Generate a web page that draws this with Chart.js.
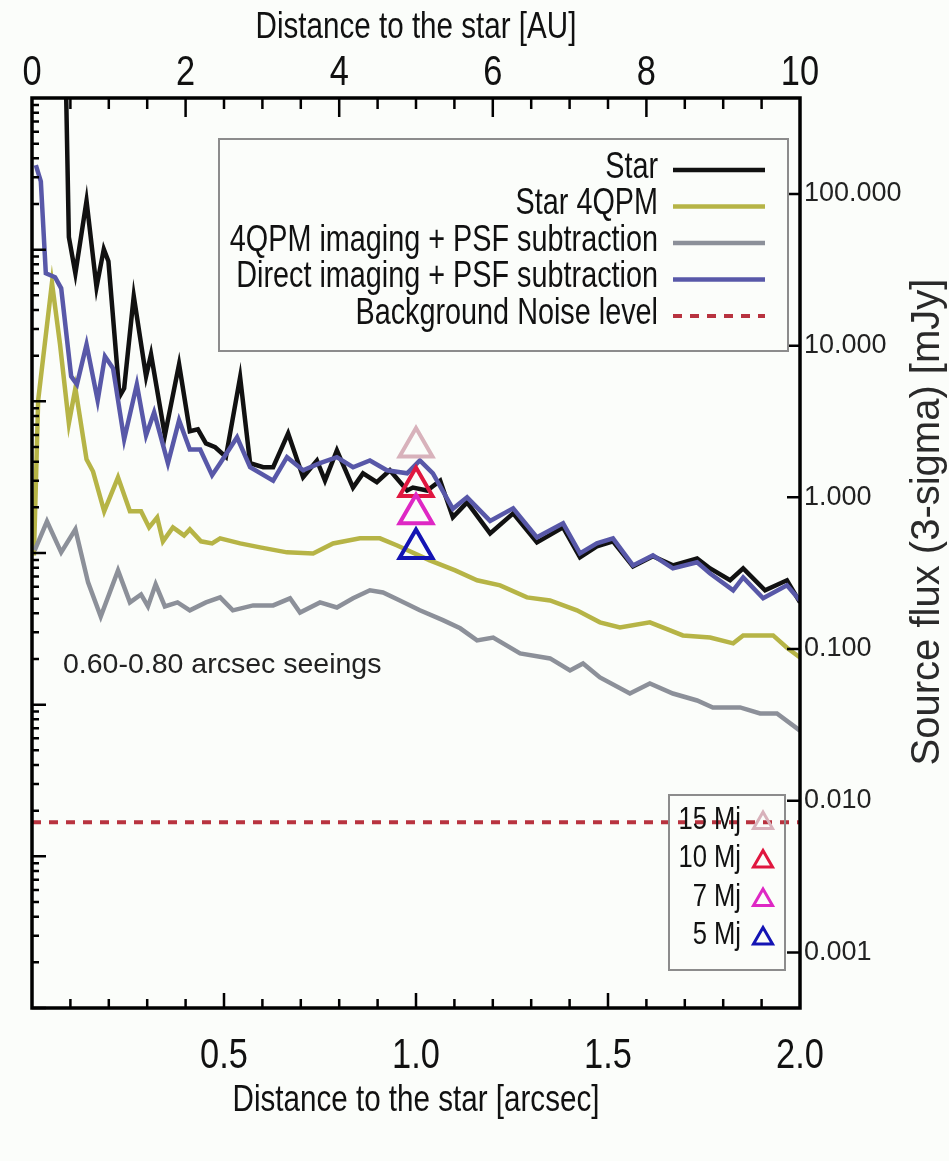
<!DOCTYPE html>
<html lang="en">
<head>
<meta charset="UTF-8">
<title>Detection limits</title>
<style>
    html, body { margin: 0; padding: 0; background: #fbfdfa; }
    .wrap { width: 949px; height: 1161px; position: relative; }
</style>
</head>
<body>
<div class="wrap"><canvas id="chart"></canvas></div>
<script src="https://cdn.jsdelivr.net/npm/chart.js@4.4.1/dist/chart.umd.min.js"></script>
<script>
    // separation [arcsec] and 3-sigma flux [mJy]
    const starSep = [0.088, 0.096, 0.113, 0.142, 0.168, 0.187, 0.199, 0.228, 0.240, 0.265, 0.297, 0.310, 0.346, 0.383, 0.411, 0.432, 0.453, 0.477, 0.505, 0.542, 0.568, 0.602, 0.628, 0.667, 0.706, 0.742, 0.763, 0.794, 0.836, 0.862, 0.898, 0.932, 0.977, 0.992, 1.029, 1.063, 1.096, 1.133, 1.193, 1.253, 1.315, 1.383, 1.427, 1.471, 1.513, 1.565, 1.617, 1.669, 1.732, 1.766, 1.818, 1.852, 1.909, 1.966, 2.000];
    const starFlux = [600, 52, 30.0, 90, 24.3, 43.3, 36.0, 4.64, 5.24, 21.2, 6.28, 8.78, 2.56, 7.54, 2.73, 2.81, 2.27, 2.14, 1.85, 6.2, 1.68, 1.58, 1.58, 2.64, 1.36, 1.75, 1.29, 2.04, 1.16, 1.44, 1.26, 1.51, 1.11, 1.16, 1.11, 1.29, 0.738, 0.927, 0.579, 0.784, 0.505, 0.634, 0.402, 0.475, 0.513, 0.351, 0.409, 0.356, 0.396, 0.340, 0.284, 0.340, 0.244, 0.284, 0.203];

    const qpmSep = [0.005, 0.016, 0.052, 0.073, 0.096, 0.113, 0.142, 0.159, 0.188, 0.224, 0.255, 0.284, 0.305, 0.326, 0.341, 0.367, 0.396, 0.411, 0.440, 0.469, 0.490, 0.542, 0.594, 0.664, 0.732, 0.784, 0.854, 0.906, 0.951, 1.036, 1.102, 1.159, 1.219, 1.289, 1.349, 1.419, 1.479, 1.531, 1.609, 1.695, 1.766, 1.826, 1.852, 1.930, 1.966, 2.000];
    const qpmFlux = [0.414, 4.36, 26, 10.2, 3.08, 5.24, 1.78, 1.48, 0.809, 1.355, 0.809, 0.809, 0.634, 0.738, 0.513, 0.634, 0.561, 0.615, 0.513, 0.497, 0.537, 0.497, 0.468, 0.434, 0.427, 0.497, 0.537, 0.537, 0.482, 0.384, 0.330, 0.284, 0.263, 0.219, 0.209, 0.180, 0.150, 0.139, 0.150, 0.123, 0.119, 0.109, 0.123, 0.123, 0.102, 0.088];

    const qpmSubSep = [0.007, 0.039, 0.076, 0.113, 0.146, 0.179, 0.224, 0.255, 0.284, 0.302, 0.322, 0.346, 0.379, 0.411, 0.453, 0.490, 0.523, 0.576, 0.628, 0.672, 0.698, 0.750, 0.794, 0.836, 0.880, 0.914, 0.958, 1.010, 1.070, 1.115, 1.159, 1.201, 1.271, 1.349, 1.401, 1.435, 1.479, 1.557, 1.609, 1.669, 1.732, 1.773, 1.844, 1.896, 1.940, 2.000];
    const qpmSubFlux = [0.447, 0.694, 0.434, 0.615, 0.275, 0.164, 0.330, 0.203, 0.229, 0.191, 0.267, 0.191, 0.203, 0.180, 0.203, 0.219, 0.180, 0.194, 0.194, 0.216, 0.174, 0.203, 0.188, 0.216, 0.244, 0.236, 0.209, 0.180, 0.155, 0.137, 0.114, 0.119, 0.0935, 0.0867, 0.0722, 0.0804, 0.065, 0.0509, 0.0593, 0.0509, 0.0458, 0.0412, 0.0412, 0.0376, 0.0376, 0.029];

    const directSep = [0.010, 0.023, 0.036, 0.060, 0.076, 0.102, 0.117, 0.142, 0.171, 0.190, 0.211, 0.240, 0.273, 0.297, 0.318, 0.354, 0.383, 0.411, 0.438, 0.469, 0.490, 0.534, 0.568, 0.628, 0.664, 0.706, 0.750, 0.794, 0.836, 0.880, 0.924, 0.977, 1.010, 1.044, 1.096, 1.133, 1.193, 1.253, 1.315, 1.383, 1.427, 1.471, 1.513, 1.565, 1.617, 1.669, 1.732, 1.766, 1.826, 1.852, 1.904, 1.966, 2.000];
    const directFlux = [155, 121, 30.0, 28.3, 23.9, 6.28, 5.56, 10.2, 4.36, 8.51, 7.10, 2.41, 5.56, 2.56, 3.64, 1.68, 3.22, 2.07, 2.07, 1.40, 1.68, 2.49, 1.58, 1.29, 1.84, 1.51, 1.68, 1.84, 1.58, 1.75, 1.51, 1.44, 1.75, 1.44, 0.84, 1.00, 0.70, 0.846, 0.545, 0.674, 0.427, 0.497, 0.537, 0.356, 0.414, 0.340, 0.373, 0.315, 0.244, 0.297, 0.216, 0.263, 0.209];

    const noiseSep = [0, 2];
    const noiseFlux = [0.0072, 0.0072];

    // planet masses at 1 arcsec
    const planetNames = ['15 Mj', '10 Mj', '7 Mj', '5 Mj'];
    const planetSep = [1.0, 1.0, 1.0, 1.0];
    const planetFlux = [2.15, 1.18, 0.78, 0.46];
    const planetColors = ['#d8b2bb', '#e0173f', '#de28c4', '#1414b4'];

    const arcsecTicks = [0.5, 1.0, 1.5, 2.0];
    const auTicks = [0, 2, 4, 6, 8, 10];
    const fluxTicks = [0.001, 0.01, 0.1, 1, 10, 100];

    const legendNames = ['Star', 'Star 4QPM', '4QPM imaging + PSF subtraction', 'Direct imaging + PSF subtraction', 'Background Noise level'];

    const PLAIN = '"Liberation Sans", Arial, sans-serif';

    function pts(xs, ys) {
        return xs.map((x, i) => ({x: x, y: ys[i]}));
    }

    // condensed text: Liberation Sans squeezed horizontally
    function narrowText(ctx, text, x, y, size, align) {
        ctx.save();
        ctx.font = size + 'px ' + PLAIN;
        ctx.textAlign = align;
        ctx.textBaseline = 'middle';
        ctx.fillStyle = '#111';
        ctx.translate(x, y);
        ctx.scale(0.8, 1);
        ctx.fillText(text, 0, 0);
        ctx.restore();
    }

    // inward tick marks, frame, tick labels and axis titles
    const frameTicks = {
        id: 'frameTicks',
        afterDatasetsDraw(chart) {
            const {ctx, chartArea: a, scales} = chart;
            ctx.save();
            ctx.strokeStyle = '#000';
            ctx.lineWidth = 2.5;
            ctx.beginPath();
            for (let i = 1; i < 20; i++) {
                const px = scales.x.getPixelForValue(i / 10);
                const len = i % 5 === 0 ? 15 : 9;
                ctx.moveTo(px, a.bottom);
                ctx.lineTo(px, a.bottom - len);
            }
            for (let i = 1; i < 20; i++) {
                const px = scales.x2.getPixelForValue(i / 2);
                const len = i % 4 === 0 ? 19 : 11;
                ctx.moveTo(px, a.top);
                ctx.lineTo(px, a.top + len);
            }
            fluxTicks.forEach(v => {
                const py = scales.y.getPixelForValue(v);
                ctx.moveTo(a.right, py);
                ctx.lineTo(a.right - 13, py);
            });
            for (let e = -3; e < 3; e++) {
                for (let m = 1; m < 10; m++) {
                    const py = scales.yL.getPixelForValue(m * Math.pow(10, e));
                    const len = m === 1 ? 14 : 7;
                    ctx.moveTo(a.left, py);
                    ctx.lineTo(a.left + len, py);
                }
            }
            ctx.stroke();
            ctx.lineWidth = 3.5;
            ctx.strokeRect(a.left, a.top, a.right - a.left, a.bottom - a.top);
            ctx.restore();

            arcsecTicks.forEach(v => narrowText(ctx, v.toFixed(1), scales.x.getPixelForValue(v), 1056, 43, 'center'));
            auTicks.forEach(v => narrowText(ctx, String(v), scales.x2.getPixelForValue(v), 73, 43, 'center'));
            const mid = (a.left + a.right) / 2;
            narrowText(ctx, 'Distance to the star [arcsec]', mid, 1101, 37, 'center');
            narrowText(ctx, 'Distance to the star [AU]', mid, 28, 37, 'center');
        }
    };

    // legends, annotation and right-hand title
    const notes = {
        id: 'notes',
        afterDraw(chart) {
            const ctx = chart.ctx;
            ctx.save();

            ctx.strokeStyle = '#8c8c8c';
            ctx.lineWidth = 2;
            ctx.strokeRect(219, 139, 569, 212);
            legendNames.forEach((name, i) => {
                const ds = chart.data.datasets.find(d => d.label === name);
                const y = 168 + i * 36.5;
                narrowText(ctx, name, 658, y, 36, 'right');
                ctx.strokeStyle = ds.borderColor;
                ctx.lineWidth = ds.borderWidth;
                ctx.setLineDash(ds.borderDash || []);
                ctx.beginPath();
                ctx.moveTo(673, y + 2);
                ctx.lineTo(765, y + 2);
                ctx.stroke();
            });
            ctx.setLineDash([]);

            ctx.strokeStyle = '#8c8c8c';
            ctx.lineWidth = 2;
            ctx.strokeRect(669, 795, 116, 175);
            planetNames.forEach((name, i) => {
                const y = 820 + i * 38.5;
                narrowText(ctx, name, 741, y, 32, 'right');
                ctx.strokeStyle = planetColors[i];
                ctx.fillStyle = 'rgba(0,0,0,0)';
                ctx.lineWidth = 3;
                Chart.helpers.drawPoint(ctx, {pointStyle: 'triangle', radius: 11, borderWidth: 3.5, rotation: 0}, 763, y + 3);
            });

            ctx.fillStyle = '#222';
            ctx.textAlign = 'left';
            ctx.textBaseline = 'middle';
            ctx.font = '28.5px ' + PLAIN;
            ctx.fillText('0.60-0.80 arcsec seeings', 63, 665);

            ctx.translate(928, 522);
            ctx.rotate(-Math.PI / 2);
            ctx.textAlign = 'center';
            ctx.font = '40px ' + PLAIN;
            ctx.fillStyle = '#2a2a2a';
            ctx.fillText('Source flux (3-sigma) [mJy]', 0, 0);
            ctx.restore();
        }
    };

    const line = (label, xs, ys, color, order) => ({
        label: label,
        data: pts(xs, ys),
        borderColor: color,
        borderWidth: 4.5,
        pointRadius: 0,
        tension: 0,
        fill: false,
        order: order,
        xAxisID: 'x',
        yAxisID: 'y'
    });

    const datasets = [
        {
            label: 'planets',
            data: pts(planetSep, planetFlux),
            showLine: false,
            pointStyle: 'triangle',
            pointRadius: 19,
            pointBorderWidth: 4,
            pointBorderColor: planetColors,
            pointBackgroundColor: 'rgba(0,0,0,0)',
            order: 0,
            xAxisID: 'x',
            yAxisID: 'y'
        },
        line('Direct imaging + PSF subtraction', directSep, directFlux, '#5858a8', 1),
        line('Star', starSep, starFlux, '#111111', 2),
        line('4QPM imaging + PSF subtraction', qpmSubSep, qpmSubFlux, '#8c9099', 3),
        line('Star 4QPM', qpmSep, qpmFlux, '#b6b446', 4),
        Object.assign(line('Background Noise level', noiseSep, noiseFlux, '#b8333f', 5), {borderDash: [9, 8], borderWidth: 4})
    ];

    new Chart(document.getElementById('chart'), {
        type: 'line',
        data: {datasets: datasets},
        options: {
            responsive: true,
            maintainAspectRatio: false,
            animation: false,
            layout: {padding: 0},
            plugins: {legend: {display: false}, tooltip: {enabled: false}},
            scales: {
                x: {
                    type: 'linear', position: 'bottom', min: 0, max: 2,
                    grid: {display: false, drawTicks: false},
                    border: {display: false},
                    ticks: {display: false},
                    afterFit: s => { s.height = 153; }
                },
                x2: {
                    type: 'linear', position: 'top', min: 0, max: 10,
                    grid: {display: false, drawTicks: false},
                    border: {display: false},
                    ticks: {display: false},
                    afterFit: s => { s.height = 98; }
                },
                y: {
                    type: 'logarithmic', position: 'right', min: 4.3e-4, max: 429.5,
                    grid: {display: false, drawTicks: false},
                    border: {display: false},
                    afterBuildTicks: s => { s.ticks = fluxTicks.map(v => ({value: v})); },
                    afterFit: s => { s.width = 149; },
                    ticks: {
                        padding: 4, autoSkip: false, color: '#222',
                        font: {family: PLAIN, size: 27},
                        callback: v => Number(v).toFixed(3)
                    }
                },
                yL: {
                    type: 'logarithmic', position: 'left', min: 0.001, max: 1000,
                    grid: {display: false, drawTicks: false},
                    border: {display: false},
                    ticks: {display: false},
                    afterFit: s => { s.width = 32; }
                }
            }
        },
        plugins: [frameTicks, notes]
    });
</script>
</body>
</html>
